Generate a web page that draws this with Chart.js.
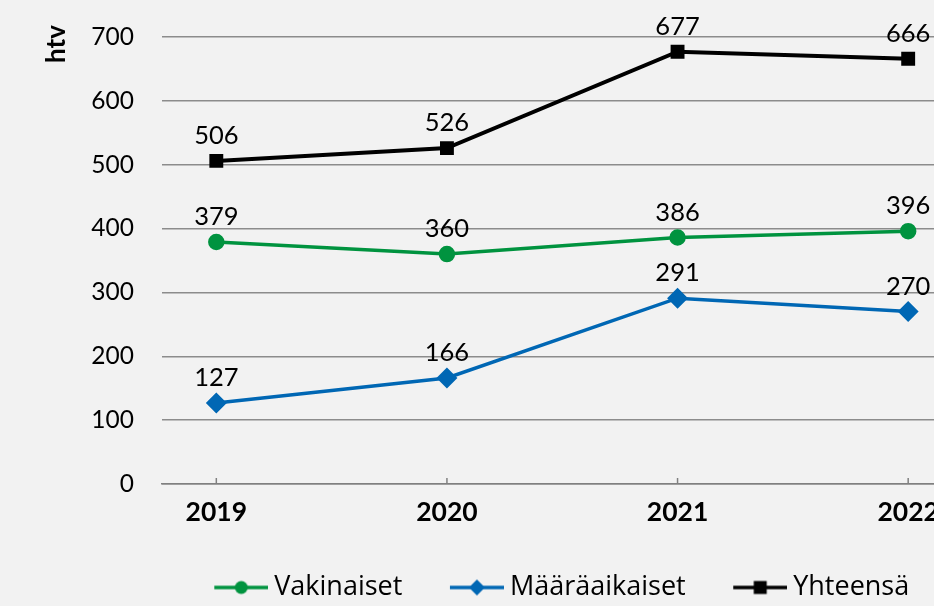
<!DOCTYPE html>
<html><head><meta charset="utf-8">
<script src="https://cdn.jsdelivr.net/npm/chart.js@4/dist/chart.umd.min.js"></script>
<style>
html,body{margin:0;padding:0;background:#f2f2f2;overflow:hidden;width:934px;height:606px}
#wrap{position:absolute;left:0;top:0;width:1086px;height:606px}
</style></head>
<body><div id="wrap"><canvas id="c"></canvas></div>
<script>
const years = ['2019', '2020', '2021', '2022'];
const vakinaiset = [379, 360, 386, 396];
const maaraaikaiset = [127, 166, 291, 270];
const yhteensa = [506, 526, 677, 666];
const seriesNames = ['Vakinaiset', 'Määräaikaiset', 'Yhteensä'];
const yAxisTitle = 'htv';

const FONT = 'Lato, "Open Sans", sans-serif';
const LEGEND_FONT = '"Open Sans", Lato, sans-serif';
const GREEN = '#00933f', BLUE = '#0067b4', BLACK = '#000000';
const BOX_W = 84;

function toPoints(vals){ return years.map((y,i)=>({x:Number(y), y:vals[i]})); }

function legendIcon(color, style){
  const c = document.createElement('canvas');
  c.width = BOX_W + 15; c.height = 18;
  const g = c.getContext('2d');
  const x0 = c.width - 54;
  g.strokeStyle = color; g.lineWidth = 3.5;
  g.beginPath(); g.moveTo(x0,9); g.lineTo(x0+54,9); g.stroke();
  g.fillStyle = color;
  g.beginPath();
  const cx = x0 + 27;
  if(style==='circle'){ g.arc(cx,9,6.5,0,Math.PI*2); }
  else if(style==='diamond'){ g.moveTo(cx,1); g.lineTo(cx+8,9); g.lineTo(cx,17); g.lineTo(cx-8,9); g.closePath(); }
  else { g.rect(cx-6.5,2.5,13,13); }
  g.fill();
  return c;
}
const icons = [legendIcon(GREEN,'circle'), legendIcon(BLUE,'diamond'), legendIcon(BLACK,'square')];

const valueLabels = {
  id:'valueLabels',
  afterDatasetsDraw(chart){
    const ctx = chart.ctx;
    ctx.save();
    ctx.font = '25.5px ' + FONT;
    ctx.fillStyle = '#000';
    ctx.textAlign = 'center';
    ctx.textBaseline = 'middle';
    chart.data.datasets.forEach((ds, di)=>{
      const meta = chart.getDatasetMeta(di);
      meta.data.forEach((el, i)=>{
        ctx.fillText(String(ds.data[i].y), el.x, el.y - 25);
      });
    });
    ctx.restore();
  }
};

const extras = {
  id:'extras',
  afterDraw(chart){
    const ctx = chart.ctx;
    const xs = chart.scales.x;
    const bottom = chart.chartArea.bottom;
    ctx.save();
    ctx.strokeStyle = '#808080'; ctx.lineWidth = 1.5;
    years.forEach(y=>{
      const px = xs.getPixelForValue(Number(y));
      ctx.beginPath(); ctx.moveTo(px, bottom); ctx.lineTo(px, bottom-6); ctx.stroke();
    });
    ctx.translate(57, 44);
    ctx.rotate(-Math.PI/2);
    ctx.font = 'bold 26px ' + FONT;
    ctx.fillStyle = '#000';
    ctx.textAlign = 'center'; ctx.textBaseline = 'middle';
    ctx.fillText(yAxisTitle, 0, 0);
    ctx.restore();
  }
};

function yearLabel(v){
  const r = Math.round(v);
  return (Math.abs(v - r) < 1e-6 && years.includes(String(r))) ? String(r) : '';
}

new Chart(document.getElementById('c'), {
  type:'line',
  data:{
    datasets:[
      {label:seriesNames[0], data:toPoints(vakinaiset), borderColor:GREEN, backgroundColor:GREEN, borderWidth:3.5, pointStyle:'circle', pointRadius:6.5, pointHoverRadius:6.5},
      {label:seriesNames[1], data:toPoints(maaraaikaiset), borderColor:BLUE, backgroundColor:BLUE, borderWidth:3.5, pointStyle:'rectRot', pointRadius:8, pointHoverRadius:8},
      {label:seriesNames[2], data:toPoints(yhteensa), borderColor:BLACK, backgroundColor:BLACK, borderWidth:4, pointStyle:'rect', pointRadius:7, pointHoverRadius:7}
    ]
  },
  options:{
    responsive:true, maintainAspectRatio:false, animation:false,
    layout:{padding:{top:37, right:0, left:0, bottom:-5}},
    plugins:{
      tooltip:{enabled:false},
      legend:{
        position:'bottom',
        labels:{
          font:{family:LEGEND_FONT, size:27}, color:'#000',
          usePointStyle:true, pointStyleWidth:BOX_W, padding:10,
          generateLabels(chart){
            return chart.data.datasets.map((ds,i)=>({text:ds.label, pointStyle:icons[i], fillStyle:ds.borderColor, strokeStyle:ds.borderColor, lineWidth:0, datasetIndex:i, fontColor:'#000'}));
          }
        }
      }
    },
    scales:{
      x:{
        type:'linear', min:2018.7645, max:2022.7212,
        afterFit(scale){ scale.height = 80; },
        grid:{display:false, drawTicks:false},
        border:{display:true, color:'#808080', width:1.5},
        ticks:{stepSize:1, includeBounds:false, autoSkip:false, padding:13, color:'#000', font:{family:FONT, size:26.5, weight:'bold'},
          callback:(v)=> yearLabel(v)}
      },
      y:{
        min:0, max:700,
        afterFit(scale){ scale.width = 162; },
        grid:{color:'#8c8c8c', lineWidth:1.5, drawTicks:true, tickLength:24, tickColor:'rgba(0,0,0,0)'},
        border:{display:false},
        ticks:{stepSize:100, padding:4, color:'#000', font:{family:FONT, size:24.5}}
      }
    }
  },
  plugins:[valueLabels, extras]
});
</script>
</body></html>
